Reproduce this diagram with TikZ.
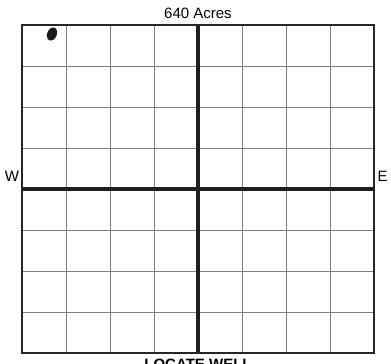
\documentclass[tikz,border=0pt]{standalone}
\usepackage{fontspec}
\setmainfont{Liberation Sans}
\begin{document}
\begin{tikzpicture}[x=1pt,y=-1pt,
  gridline/.style={draw=black!50,line width=0.9pt},
  axisline/.style={draw=black!88,line width=4pt},
  borderline/.style={draw=black!85,line width=2.6pt},
  lbl/.style={font=\fontsize{15}{18}\selectfont,inner sep=0pt,anchor=base},
  welldot/.style={fill=black!90,draw=none}]
\useasboundingbox[fill=white] (0,0) rectangle (391,364);
% thin grid
\foreach \i in {1,2,3,5,6,7} {
  \draw[gridline] ({22+44*\i},25) -- ({22+44*\i},353);
  \draw[gridline] (22,{25+41*\i}) -- (374,{25+41*\i});
}
% thick center lines
\draw[axisline] (198,25) -- (198,353);
\draw[axisline] (22,189) -- (374,189);
% outer border
\draw[borderline] (22,25) rectangle (374,353);
% well location
\fill[welldot,rotate around={-22:(52,34)}] (52,34) ellipse (4.8pt and 6.8pt);
% labels
\node[lbl] (title) at (198,18.3) {640 Acres};
\node[lbl] (west) at (12,181.7) {W};
\node[lbl] (east) at (382.5,181.7) {E};
\node[lbl,font=\fontsize{15}{18}\selectfont\bfseries] (caption) at (198,369) {LOCATE WELL};
\end{tikzpicture}
\end{document}
